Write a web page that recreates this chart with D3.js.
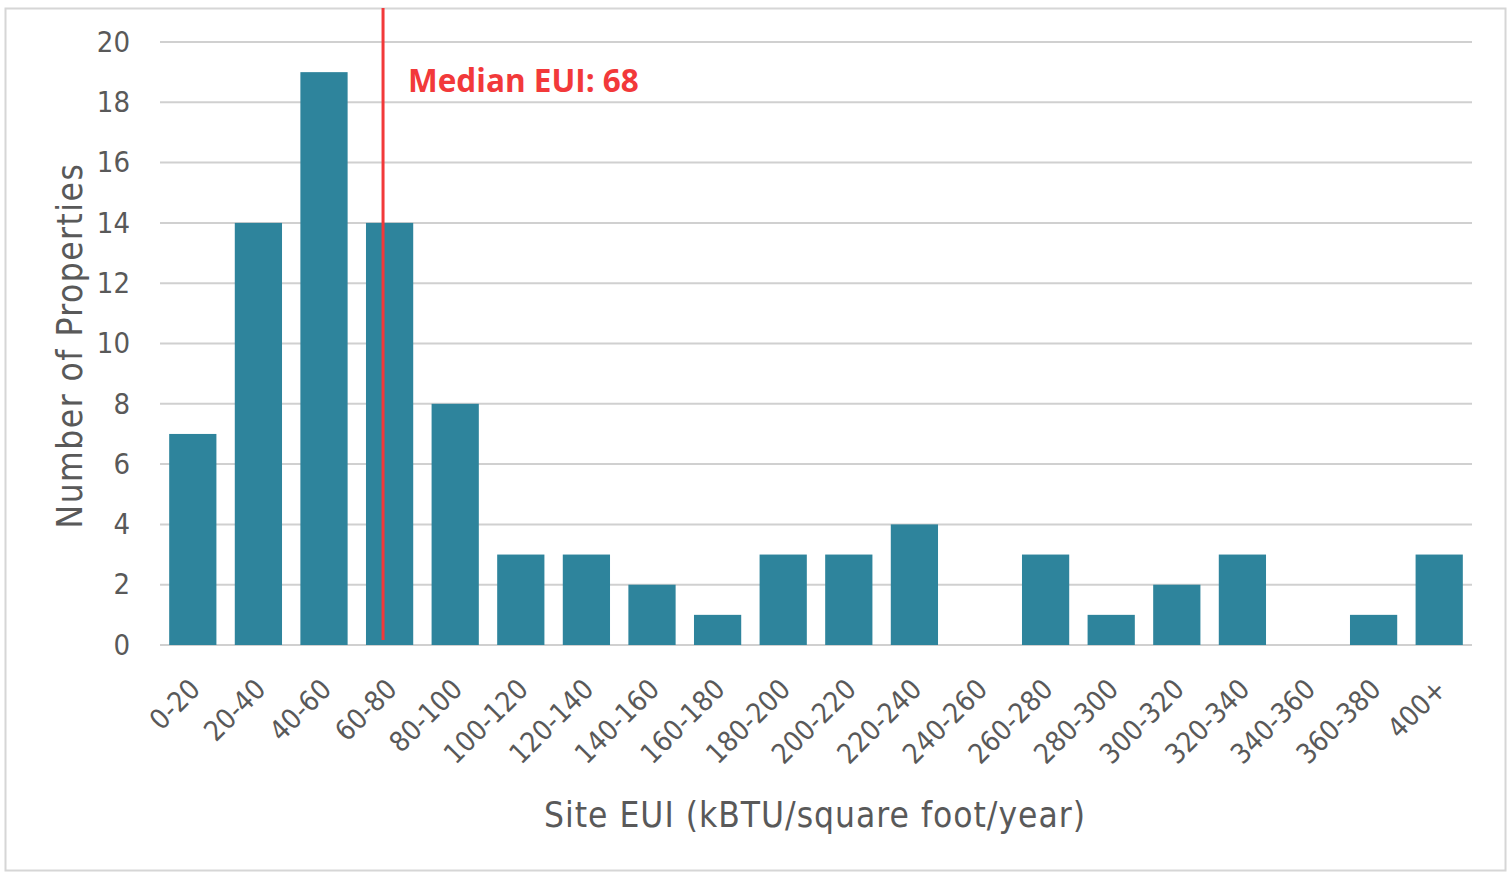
<!DOCTYPE html>
<html>
<head>
<meta charset="utf-8">
<script src="https://cdn.jsdelivr.net/npm/d3@7"></script>
<style>
  body { margin: 0; background: #fff; }
  svg { display: block; }
  .din { font-family: "DejaVu Sans", sans-serif; font-stretch: condensed; }
</style>
</head>
<body>
<svg id="chart"></svg>
<script>
var width = 1512;
var height = 872;

var categories = ['0-20', '20-40', '40-60', '60-80', '80-100', '100-120', '120-140', '140-160',
    '160-180', '180-200', '200-220', '220-240', '240-260', '260-280', '280-300', '300-320',
    '320-340', '340-360', '360-380', '400+'];
var counts = [7, 14, 19, 14, 8, 3, 3, 2, 1, 3, 3, 4, 0, 3, 1, 2, 3, 0, 1, 3];
var yTicks = [0, 2, 4, 6, 8, 10, 12, 14, 16, 18, 20];
var medianEUI = 68;

var margin = {top: 42, right: 40, bottom: 227, left: 160};
var plotW = width - margin.left - margin.right;
var plotH = height - margin.top - margin.bottom;

var svg = d3.select('#chart')
    .attr('width', width)
    .attr('height', height);

// outer frame
svg.append('rect')
    .attr('x', 5.5).attr('y', 8.5)
    .attr('width', 1500).attr('height', 862)
    .attr('fill', '#fff')
    .attr('stroke', '#d6d6d6')
    .attr('stroke-width', 2);

var g = svg.append('g')
    .attr('transform', 'translate(' + margin.left + ',' + margin.top + ')');

var x = d3.scaleBand()
    .domain(categories)
    .range([0, plotW])
    .paddingInner(0.28)
    .paddingOuter(0.14);

var y = d3.scaleLinear()
    .domain([0, 20])
    .range([plotH, 0]);

// EUI value -> pixel, each band covers 20 units
var xEui = d3.scaleLinear()
    .domain([0, 20 * categories.length])
    .range([0, plotW]);

// gridlines
g.append('g')
    .selectAll('line')
    .data(yTicks)
    .enter().append('line')
    .attr('x1', 0)
    .attr('x2', plotW)
    .attr('y1', function (d) { return y(d); })
    .attr('y2', function (d) { return y(d); })
    .attr('stroke', '#d0d0d0')
    .attr('stroke-width', 2);

// y axis labels
var yAxis = d3.axisLeft(y)
    .tickValues(yTicks)
    .tickSize(0)
    .tickPadding(30);

g.append('g')
    .call(yAxis)
    .call(function (sel) {
        sel.select('.domain').remove();
        sel.selectAll('text')
            .attr('class', 'din')
            .attr('font-size', 29)
            .attr('fill', '#595959');
    });

// bars
g.append('g')
    .selectAll('rect')
    .data(counts)
    .enter().append('rect')
    .attr('x', function (d, i) { return x(categories[i]); })
    .attr('y', function (d) { return y(d); })
    .attr('width', x.bandwidth())
    .attr('height', function (d) { return plotH - y(d); })
    .attr('fill', '#2e849c');

// x labels
var xAxis = d3.axisBottom(x).tickSize(0).tickPadding(0);

g.append('g')
    .attr('transform', 'translate(0,' + plotH + ')')
    .call(xAxis)
    .call(function (sel) {
        sel.select('.domain').remove();
        sel.selectAll('text')
            .attr('class', 'din')
            .attr('font-size', 28)
            .attr('fill', '#595959')
            .attr('text-anchor', 'end')
            .attr('dy', 0)
            .attr('transform', 'translate(9,46) rotate(-45)');
    });

// median line
g.append('line')
    .attr('x1', xEui(medianEUI))
    .attr('x2', xEui(medianEUI))
    .attr('y1', 8 - margin.top)
    .attr('y2', plotH - 5)
    .attr('stroke', '#f2393a')
    .attr('stroke-width', 3);

g.append('text')
    .attr('x', xEui(medianEUI) + 25)
    .attr('y', 50)
    .attr('font-family', '"Open Sans", sans-serif')
    .attr('font-weight', 700)
    .attr('font-size', 31.5)
    .attr('fill', '#f2393a')
    .text('Median EUI: ' + medianEUI);

// axis titles
svg.append('text')
    .attr('class', 'din')
    .attr('transform', 'translate(82,' + (margin.top + plotH / 2 + 2) + ') rotate(-90)')
    .attr('text-anchor', 'middle')
    .attr('font-size', 35)
    .attr('letter-spacing', 1.5)
    .attr('fill', '#595959')
    .text('Number of Properties');

svg.append('text')
    .attr('class', 'din')
    .attr('x', 815)
    .attr('y', 827)
    .attr('text-anchor', 'middle')
    .attr('font-size', 35)
    .attr('letter-spacing', 1)
    .attr('fill', '#595959')
    .text('Site EUI (kBTU/square foot/year)');
</script>
</body>
</html>
